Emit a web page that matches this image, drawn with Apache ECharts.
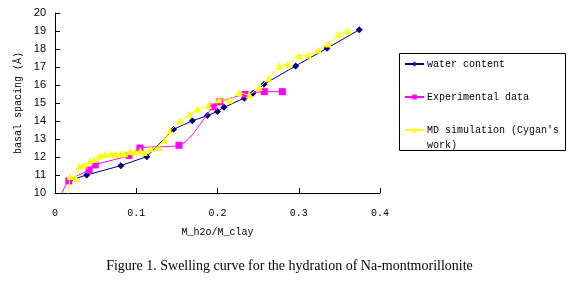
<!DOCTYPE html>
<html>
<head>
<meta charset="utf-8">
<script src="https://cdn.jsdelivr.net/npm/echarts@6/dist/echarts.min.js"></script>
<style>
html,body{margin:0;padding:0;background:#fff;}
#chart{width:579px;height:283px;}
</style>
</head>
<body>
<div id="chart"></div>
<script>
// Data
const xTicks = [0, 0.1, 0.2, 0.3, 0.4];
const yTicks = [10, 11, 12, 13, 14, 15, 16, 17, 18, 19, 20];

const waterX = [0.018, 0.039, 0.081, 0.113, 0.146, 0.169, 0.1875, 0.200, 0.208, 0.233, 0.2437, 0.2572, 0.2962, 0.3348, 0.3745];
const waterY = [10.70, 11.00, 11.52, 12.02, 13.54, 14.01, 14.30, 14.53, 14.76, 15.27, 15.54, 16.04, 17.06, 18.04, 19.07];

const expX = [0.005, 0.017, 0.042, 0.0496, 0.091, 0.1046, 0.1526, 0.1948, 0.203, 0.234, 0.2576, 0.2798];
const expY = [9.60, 10.67, 11.28, 11.56, 12.09, 12.50, 12.65, 14.79, 15.07, 15.48, 15.63, 15.63];

const mdX = [0.015, 0.0185, 0.0255, 0.030, 0.036, 0.043, 0.049, 0.055, 0.0615, 0.069, 0.075, 0.081, 0.086, 0.092, 0.098, 0.105, 0.110, 0.118, 0.128, 0.135, 0.141, 0.154, 0.1655, 0.1756, 0.189, 0.202, 0.2145, 0.2267, 0.239, 0.2514, 0.263, 0.276, 0.2864, 0.300, 0.3118, 0.324, 0.3364, 0.3487, 0.360];
const mdY = [9.70, 10.91, 10.82, 11.50, 11.56, 11.78, 11.86, 12.06, 12.14, 12.17, 12.15, 12.17, 12.20, 12.30, 12.28, 12.36, 12.25, 12.46, 12.53, 12.94, 13.44, 14.00, 14.37, 14.66, 14.86, 15.18, 15.15, 15.57, 15.44, 15.86, 16.37, 17.06, 17.15, 17.63, 17.67, 17.94, 18.28, 18.82, 19.02];

const seriesNames = ['water content', 'Experimental data', "MD simulation (Cygan's work)"];
const xName = 'M_h2o/M_clay';
const yName = 'basal spacing (Å)';
const caption = 'Figure 1. Swelling curve for the hydration of Na-montmorillonite';

const zip = (xs, ys) => xs.map((x, i) => [x, ys[i]]);

const chart = echarts.init(document.getElementById('chart'), null, {renderer: 'canvas'});
const mono = 'Liberation Mono';

const legendRowCenters = [64, 97, 130];
const legends = seriesNames.map((n, i) => ({
  orient: 'vertical', left: 404, top: legendRowCenters[i] - 7, padding: 0,
  itemWidth: 19, itemHeight: 6,
  textStyle: {fontFamily: mono, fontSize: 10, color: '#000', lineHeight: 14, padding: [0,0,0,-2]},
  formatter: s => s === seriesNames[2] ? "MD simulation (Cygan's" : s,
  data: [n]
}));

chart.setOption({
  animation: false,
  backgroundColor: '#ffffff',
  grid: {left: 55, right: 199, top: 13, bottom: 90, containLabel: false},
  xAxis: {
    type: 'value', min: 0, max: 0.4, interval: 0.1,
    name: xName, nameLocation: 'middle', nameGap: 34,
    nameTextStyle: {fontFamily: mono, fontSize: 10, color: '#000'},
    axisLine: {show: true, onZero: false, lineStyle: {color: '#000', width: 1}},
    axisTick: {show: true, inside: true, length: 5, lineStyle: {color: '#000'}},
    axisLabel: {margin: 15, fontFamily: mono, fontSize: 10, color: '#000',
      formatter: v => v === 0 ? '0' : v.toFixed(1)},
    splitLine: {show: false}
  },
  yAxis: {
    type: 'value', min: 10, max: 20, interval: 1,
    name: yName, nameLocation: 'middle', nameGap: 31, nameRotate: 90,
    nameTextStyle: {fontFamily: mono, fontSize: 10, color: '#000'},
    axisLine: {show: true, lineStyle: {color: '#000', width: 1}},
    axisTick: {show: true, inside: true, length: 5, lineStyle: {color: '#000'}},
    axisLabel: {margin: 9, fontFamily: 'Liberation Sans', fontSize: 11, color: '#000'},
    splitLine: {show: false}
  },
  legend: legends,
  graphic: [
    {type: 'rect', shape: {x: 399.5, y: 53.5, width: 166, height: 97},
     style: {fill: 'none', stroke: '#000', lineWidth: 1}, z: 100},
    {type: 'text', left: 427, top: 140,
     style: {text: 'work)', font: '10px "Liberation Mono"', fill: '#000'}, z: 100},
    {type: 'text', left: 'center', top: 259,
     style: {text: caption, font: '14px "Liberation Serif"', fill: '#000'}, z: 100}
  ],
  series: [
    {name: seriesNames[0], type: 'line', data: zip(waterX, waterY),
     symbol: 'diamond', symbolSize: 7, z: 2,
     lineStyle: {color: '#000080', width: 1}, itemStyle: {color: '#000080'}},
    {name: seriesNames[1], type: 'line', data: zip(expX, expY), smooth: 0.3,
     symbol: 'rect', symbolSize: 7, z: 3,
     lineStyle: {color: '#FF00FF', width: 1}, itemStyle: {color: '#FF00FF'}},
    {name: seriesNames[2], type: 'line', data: zip(mdX, mdY),
     symbol: 'triangle', symbolSize: 7, z: 4,
     lineStyle: {color: '#FFFF00', width: 1}, itemStyle: {color: '#FFFF00'}}
  ]
});
</script>
</body>
</html>
